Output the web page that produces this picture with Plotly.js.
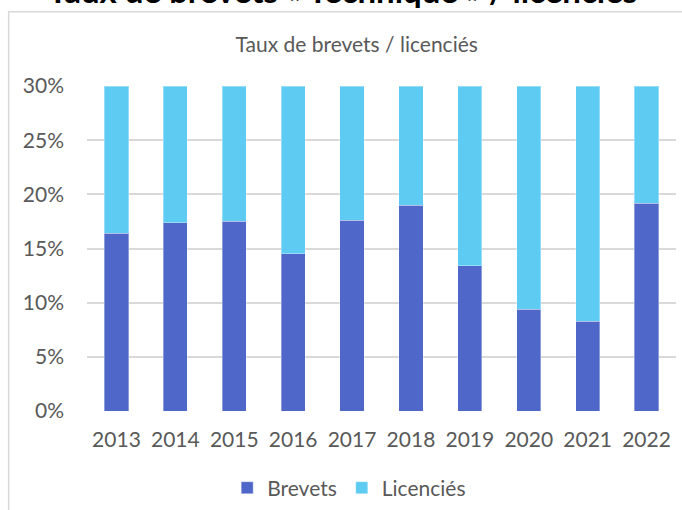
<!DOCTYPE html>
<html><head><meta charset="utf-8">
<script src="https://cdn.plot.ly/plotly-3.0.1.min.js"></script>
<style>html,body{margin:0;padding:0;background:#fff;}#chart{width:682px;height:510px;}</style>
</head><body><div id="chart"></div>
<script>
const years = ['2013','2014','2015','2016','2017','2018','2019','2020','2021','2022'];
const brevets = [0.164, 0.174, 0.175, 0.145, 0.176, 0.190, 0.134, 0.094, 0.083, 0.192];
const licencies = [0.136, 0.126, 0.125, 0.155, 0.124, 0.110, 0.166, 0.206, 0.217, 0.108];
const yTicks = [0, 0.05, 0.10, 0.15, 0.20, 0.25, 0.30];
const yTickText = ['0%','5%','10%','15%','20%','25%','30%'];

const font = "Lato, 'Open Sans', sans-serif";
const traces = [
  {type:'bar', name:'Brevets', x:years, y:brevets, marker:{color:'#4F67C8', line:{color:'rgba(255,255,255,0.35)', width:1}}},
  {type:'bar', name:'Licenciés', x:years, y:licencies, marker:{color:'#5DCBF2', line:{color:'rgba(255,255,255,0.35)', width:1}}}
];
const layout = {
  width:682, height:510, barmode:'stack', bargap:0.59,
  margin:{l:87, r:6, t:86, b:99},
  paper_bgcolor:'#fff', plot_bgcolor:'#fff',
  font:{family:font, color:'#595959', size:21},
  title:{text:'Taux de brevets / licenciés', x:0.523, xanchor:'center', y:0.912, yanchor:'middle', font:{family:font, size:21, color:'#595959'}},
  xaxis:{type:'category', showgrid:false, zeroline:false, showline:false, ticks:'', ticklabelstandoff:14, tickfont:{size:21, color:'#595959'}},
  yaxis:{range:[0,0.30], tickvals:yTicks, ticktext:yTickText, showgrid:true, gridcolor:'#d9d9d9', gridwidth:1.5, zeroline:false, showline:false, ticks:'', ticklabelstandoff:22, tickfont:{size:21, color:'#595959'}},
  showlegend:true,
  legend:{orientation:'h', xref:'container', yref:'container', x:0.512, xanchor:'center', y:0.043, yanchor:'middle', font:{size:21, color:'#595959'}, itemwidth:20, traceorder:'normal'},
  shapes:[{type:'rect', xref:'paper', yref:'paper', x0:-0.133, x1:1.1, y0:-0.5, y1:1.2286, line:{color:'#d9d9d9', width:1.5}, fillcolor:'rgba(0,0,0,0)'}],
  annotations:[{text:'<b>Taux de brevets « Technique » / licenciés</b>', xref:'paper', yref:'paper', x:0.433, y:1.295, xanchor:'center', yanchor:'middle', showarrow:false, font:{family:font, size:33, color:'#000'}}]
};
Plotly.newPlot('chart', traces, layout, {displayModeBar:false});
</script></body></html>
